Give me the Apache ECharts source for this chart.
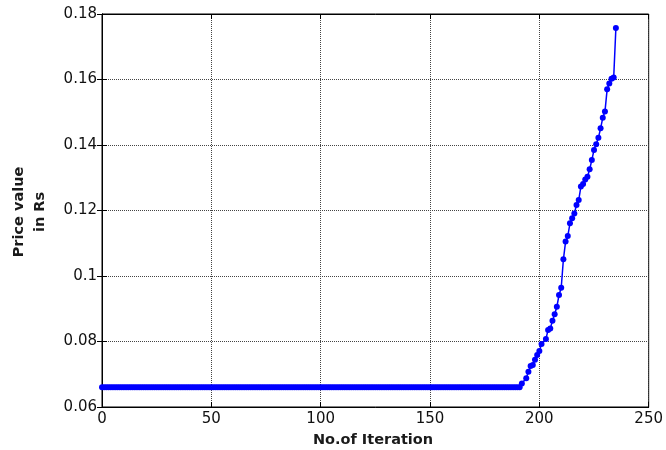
<!DOCTYPE html>
<html>
<head>
<meta charset="utf-8">
<script src="https://cdn.jsdelivr.net/npm/echarts@6/dist/echarts.min.js"></script>
<style>
  html, body { margin: 0; padding: 0; background: #fff; }
  #chart { width: 666px; height: 450px; }
</style>
</head>
<body>
<div id="chart"></div>
<script>
// Price per iteration: iterations 0..191 hold steady, then the price climbs.
const steadyPrice = [
  0.066, 0.066, 0.066, 0.066, 0.066, 0.066, 0.066, 0.066, 0.066, 0.066, 0.066, 0.066, 0.066, 0.066, 0.066, 0.066,
  0.066, 0.066, 0.066, 0.066, 0.066, 0.066, 0.066, 0.066, 0.066, 0.066, 0.066, 0.066, 0.066, 0.066, 0.066, 0.066,
  0.066, 0.066, 0.066, 0.066, 0.066, 0.066, 0.066, 0.066, 0.066, 0.066, 0.066, 0.066, 0.066, 0.066, 0.066, 0.066,
  0.066, 0.066, 0.066, 0.066, 0.066, 0.066, 0.066, 0.066, 0.066, 0.066, 0.066, 0.066, 0.066, 0.066, 0.066, 0.066,
  0.066, 0.066, 0.066, 0.066, 0.066, 0.066, 0.066, 0.066, 0.066, 0.066, 0.066, 0.066, 0.066, 0.066, 0.066, 0.066,
  0.066, 0.066, 0.066, 0.066, 0.066, 0.066, 0.066, 0.066, 0.066, 0.066, 0.066, 0.066, 0.066, 0.066, 0.066, 0.066,
  0.066, 0.066, 0.066, 0.066, 0.066, 0.066, 0.066, 0.066, 0.066, 0.066, 0.066, 0.066, 0.066, 0.066, 0.066, 0.066,
  0.066, 0.066, 0.066, 0.066, 0.066, 0.066, 0.066, 0.066, 0.066, 0.066, 0.066, 0.066, 0.066, 0.066, 0.066, 0.066,
  0.066, 0.066, 0.066, 0.066, 0.066, 0.066, 0.066, 0.066, 0.066, 0.066, 0.066, 0.066, 0.066, 0.066, 0.066, 0.066,
  0.066, 0.066, 0.066, 0.066, 0.066, 0.066, 0.066, 0.066, 0.066, 0.066, 0.066, 0.066, 0.066, 0.066, 0.066, 0.066,
  0.066, 0.066, 0.066, 0.066, 0.066, 0.066, 0.066, 0.066, 0.066, 0.066, 0.066, 0.066, 0.066, 0.066, 0.066, 0.066,
  0.066, 0.066, 0.066, 0.066, 0.066, 0.066, 0.066, 0.066, 0.066, 0.066, 0.066, 0.066, 0.066, 0.066, 0.066, 0.066
];

const riseIteration = [
  192, 194, 195, 196, 197, 198, 199, 200, 201, 203, 204, 205, 206, 207, 208, 209,
  210, 211, 212, 213, 214, 215, 216, 217, 218, 219, 220, 221, 222, 223, 224, 225,
  226, 227, 228, 229, 230, 231, 232, 233, 234, 235
];
const risePrice = [
  0.0672, 0.0688, 0.0708, 0.0725, 0.0728, 0.0744, 0.0759, 0.0771, 0.0792, 0.0808, 0.0835, 0.0840, 0.0863, 0.0883, 0.0906, 0.0942,
  0.0964, 0.1051, 0.1105, 0.1122, 0.1161, 0.1176, 0.1191, 0.1217, 0.1232, 0.1273, 0.1281, 0.1295, 0.1303, 0.1326, 0.1354, 0.1385,
  0.1402, 0.1422, 0.1451, 0.1483, 0.1502, 0.1570, 0.1588, 0.1602, 0.1606, 0.1757
];

const xTicks = [0, 50, 100, 150, 200, 250];
const yTickLabels = ['0.06', '0.08', '0.1', '0.12', '0.14', '0.16', '0.18'];

const seriesData = steadyPrice.map((v, i) => [i, v])
  .concat(riseIteration.map((it, k) => [it, risePrice[k]]));

const FONT = '"DejaVu Sans", sans-serif';
const gridLine = { show: true, lineStyle: { color: '#444', width: 1, type: [1, 1] } };

const chart = echarts.init(document.getElementById('chart'), null, { renderer: 'canvas' });
chart.setOption({
  animation: false,
  backgroundColor: '#fff',
  grid: {
    left: 102, right: 15, top: 14, bottom: 43,
    show: true, borderColor: '#000', borderWidth: 1, backgroundColor: 'transparent'
  },
  xAxis: [{
    type: 'value', min: xTicks[0], max: xTicks[xTicks.length - 1], interval: 50,
    axisLine: { show: true, onZero: false, lineStyle: { color: '#000', width: 1 } },
    axisTick: { show: true, inside: true, length: 5, lineStyle: { color: '#000' } },
    axisLabel: { color: '#111', fontFamily: FONT, fontSize: 15, margin: 5 },
    splitLine: gridLine
  }, {
    type: 'value', position: 'top', min: 0, max: 250, interval: 50,
    axisLine: { show: true, lineStyle: { color: '#000' } },
    axisTick: { show: true, inside: true, length: 5, lineStyle: { color: '#000' } },
    axisLabel: { show: false }, splitLine: { show: false }
  }],
  yAxis: [{
    type: 'value', min: 0.06, max: 0.18, interval: 0.02,
    axisLine: { show: true, onZero: false, lineStyle: { color: '#000', width: 1 } },
    axisTick: { show: true, inside: true, length: 5, lineStyle: { color: '#000' } },
    axisLabel: {
      color: '#111', fontFamily: FONT, fontSize: 15, margin: 5,
      formatter: (v) => yTickLabels[Math.round((v - 0.06) / 0.02)]
    },
    splitLine: gridLine
  }, {
    type: 'value', position: 'right', min: 0.06, max: 0.18, interval: 0.02,
    axisLine: { show: true, lineStyle: { color: '#000' } },
    axisTick: { show: true, inside: true, length: 5, lineStyle: { color: '#000' } },
    axisLabel: { show: false }, splitLine: { show: false }
  }],
  graphic: [{
    type: 'text', x: 373, y: 440,
    style: {
      text: 'No.of Iteration', font: 'bold 14.5px ' + FONT, fill: '#1a1a1a',
      align: 'center', verticalAlign: 'middle'
    }
  }, {
    type: 'text', x: 30, y: 212, rotation: Math.PI / 2,
    style: {
      text: 'Price value\nin Rs', font: 'bold 14.5px ' + FONT, fill: '#1a1a1a',
      align: 'center', verticalAlign: 'middle', lineHeight: 21
    }
  }],
  series: [{
    type: 'line',
    data: seriesData,
    xAxisIndex: 0, yAxisIndex: 0,
    symbol: 'circle', symbolSize: 6, showSymbol: true,
    itemStyle: { color: '#0000ff' },
    lineStyle: { color: '#0000ff', width: 1.5 }
  }]
});
</script>
</body>
</html>
